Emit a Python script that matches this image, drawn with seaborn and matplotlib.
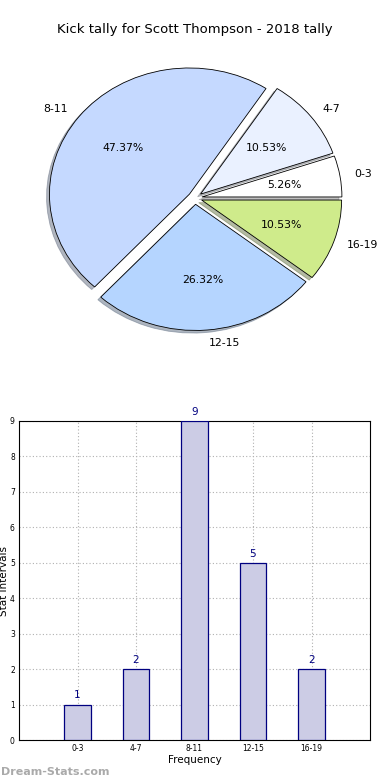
import matplotlib
matplotlib.use("Agg")
import matplotlib.pyplot as plt
import seaborn as sns
import pandas as pd

# data
categories = ["0-3", "4-7", "8-11", "12-15", "16-19"]
counts = [1, 2, 9, 5, 2]
pie_colors = ["#ffffff", "#eaf1ff", "#c5d9ff", "#b5d5ff", "#cfeb8b"]
title = "Kick tally for Scott Thompson - 2018 tally"

sns.set_style("white")
plt.rcParams["font.family"] = ["DejaVu Sans"]
plt.rcParams["text.color"] = "black"
plt.rcParams["axes.labelcolor"] = "black"
plt.rcParams["xtick.color"] = "black"
plt.rcParams["ytick.color"] = "black"

fig = plt.figure(figsize=(3.9, 7.8), dpi=100)
fig.text(0.5, 1 - 30 / 780, title, ha="center", va="center", fontsize=9.5)

# pie (slightly squashed, like the original)
ax_pie = fig.add_axes([13 / 390, (780 - 362) / 780, 364 / 390, 328 / 780])
wedges, texts, autotexts = ax_pie.pie(
    counts, labels=categories, colors=pie_colors, explode=[0.05] * len(counts),
    autopct="%.2f%%", shadow={"ox": -0.015, "oy": -0.015, "shade": 0.5}, startangle=0,
    wedgeprops={"edgecolor": "black", "linewidth": 0.6},
    textprops={"fontsize": 7.8, "color": "black"},
)
ax_pie.set_aspect("auto")
ax_pie.set_xlim(-1.3, 1.3)
ax_pie.set_ylim(-1.3, 1.3)
ax_pie.axis("off")

# bars
df = pd.DataFrame({"cat": categories, "n": counts})
ax = fig.add_axes([19 / 390, (780 - 740) / 780, 351 / 390, 319 / 780])
sns.barplot(data=df, x="cat", y="n", ax=ax, width=0.45, color="#ccccE5",
            edgecolor="#000080", linewidth=0.9, saturation=1, zorder=3)
ax.set_xlim(-1, 5)
ax.set_ylim(0, 9)
ax.set_yticks(range(10))
ax.grid(True, linestyle=(0, (1, 2)), color="#b0b0b0", linewidth=0.8, zorder=0)
ax.set_axisbelow(True)
for i, v in enumerate(counts):
    ax.text(i, v + 0.12, str(v), ha="center", va="bottom", color="#000080", fontsize=7.5)
ax.tick_params(axis="both", labelsize=5.5, direction="in", length=3, pad=3)
ax.set_xlabel("Frequency", fontsize=7.5, labelpad=1)
ax.set_ylabel("Stat Intervals", fontsize=7.5, labelpad=1)
for s in ax.spines.values():
    s.set_color("black")
    s.set_linewidth(0.8)

fig.text(0.003, 0.004, "Dream-Stats.com", color="#aaaaaa", fontsize=8, fontweight="bold",
         ha="left", va="bottom")

fig.savefig("out.png", dpi=100)
